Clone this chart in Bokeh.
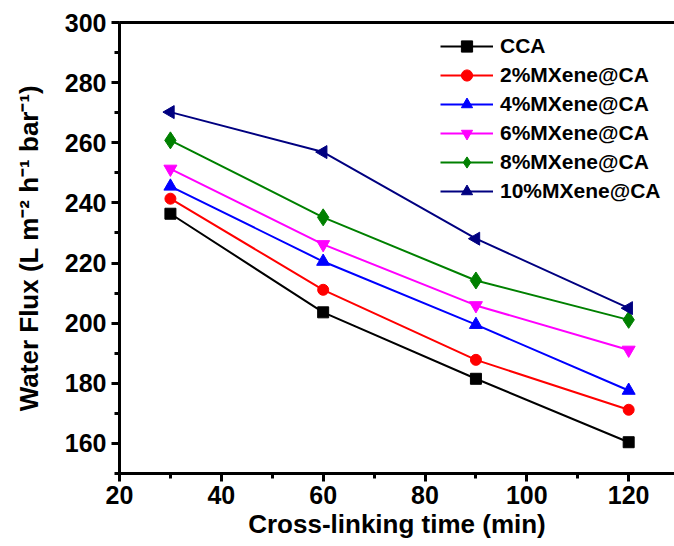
import numpy as np
from bokeh.plotting import figure
from bokeh.models import (Range1d, SingleIntervalTicker, FixedTicker, LinearAxis, Legend, LegendItem)
from bokeh.embed import file_html
from bokeh.resources import INLINE

time_min = [30, 60, 90, 120]
series_names = ["CCA", "2%MXene@CA", "4%MXene@CA", "6%MXene@CA", "8%MXene@CA", "10%MXene@CA"]
cca = [236.4, 203.6, 181.5, 160.4]
mx2 = [241.4, 211.1, 187.8, 171.2]
mx4 = [245.5, 220.5, 199.5, 177.6]
mx6 = [251.3, 226.2, 205.9, 191.1]
mx8 = [260.8, 235.2, 214.2, 201.1]
mx10 = [270.2, 256.9, 228.1, 205.0]
series_values = [cca, mx2, mx4, mx6, mx8, mx10]
colors = ["#000000", "#FF0000", "#0000FF", "#FF00FF", "#008000", "#000080"]
markers = ["square", "circle", "triangle", "inverted_triangle", "diamond", "triangle"]
angles = [0, 0, 0, 0, 0, np.pi / 2]
sizes = [11, 11, 13, 13, 17, 13]

FONT = "Liberation Sans"

p = figure(width=674, height=544, output_backend="svg", toolbar_location=None,
           x_range=Range1d(20, 129.0), y_range=Range1d(150, 300),
           min_border_left=119, min_border_right=0, min_border_top=22, min_border_bottom=71)
p.grid.visible = False
p.outline_line_color = None
p.background_fill_color = "white"

items = []
for name, vals, col, mk, ang, sz in zip(series_names, series_values, colors, markers, angles, sizes):
    l = p.line(time_min, vals, line_color=col, line_width=2)
    s = p.scatter(time_min, vals, marker=mk, size=sz, angle=ang,
                  fill_color=col, line_color=col)
    items.append(LegendItem(label=name, renderers=[l, s]))

for ax, interval in ((p.xaxis[0], 20), (p.yaxis[0], 20)):
    ax.ticker = SingleIntervalTicker(interval=interval, num_minor_ticks=2)
    ax.axis_line_width = 3
    ax.major_tick_line_width = 3
    ax.minor_tick_line_width = 3
    ax.major_tick_out = 8
    ax.major_tick_in = 0
    ax.minor_tick_out = 5
    ax.minor_tick_in = 0
    ax.major_label_text_font = FONT
    ax.major_label_text_font_style = "bold"
    ax.major_label_text_font_size = "25px"
    ax.major_label_text_color = "#000000"
    ax.axis_label_text_font = FONT
    ax.axis_label_text_font_style = "bold"
    ax.axis_label_text_font_size = "26px"
    ax.axis_label_text_color = "#000000"

p.xaxis.axis_label = "Cross-linking time (min)"
p.yaxis.axis_label = "Water Flux (L m\u207b\u00b2 h\u207b\u00b9 bar\u207b\u00b9)"
p.xaxis.major_label_standoff = 4
p.xaxis.axis_label_standoff = 2
p.yaxis.major_label_standoff = 5
p.yaxis.axis_label_standoff = 18

top = LinearAxis(axis_line_width=3, ticker=FixedTicker(ticks=[]),
                 major_tick_out=0, major_tick_in=0, minor_tick_out=0, minor_tick_in=0,
                 major_label_standoff=0)
p.add_layout(top, "above")

legend = Legend(items=items, location=(321, 268), padding=0, margin=0,
                border_line_color=None, background_fill_alpha=0,
                glyph_width=53, glyph_height=28, label_height=28, spacing=1,
                label_standoff=7, label_text_font=FONT, label_text_font_style="bold",
                label_text_font_size="21px", label_text_color="#000000")
p.add_layout(legend, "center")

open("out.html", "w").write(file_html(p, INLINE))
